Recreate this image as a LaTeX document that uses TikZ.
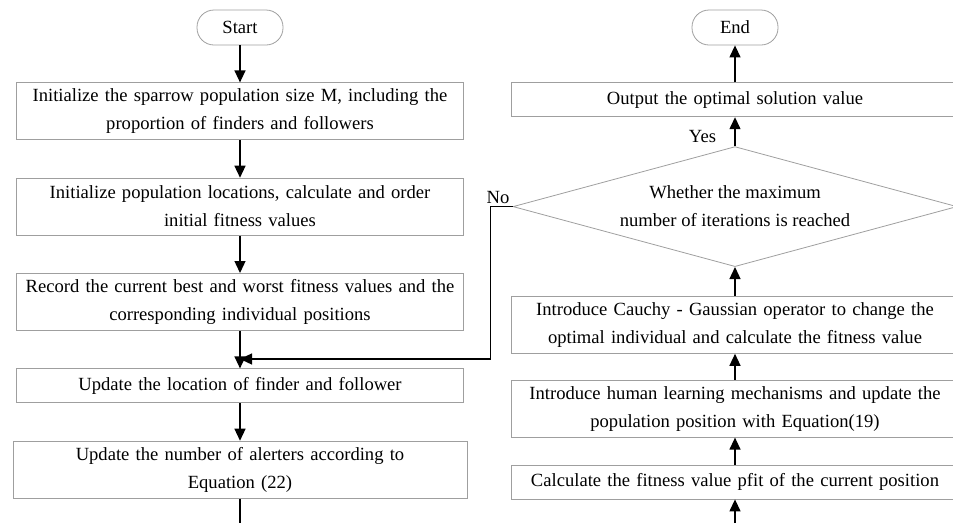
\documentclass[tikz,border=0pt]{standalone}
\usepackage{fontspec}
\setmainfont{Liberation Serif}
\usetikzlibrary{arrows.meta, positioning, shapes.geometric}

\begin{document}
\begin{tikzpicture}[
	  x=1pt, y=-1pt,
	  font=\fontsize{18.6}{28}\selectfont,
	  node distance=37.5pt,
	  box/.style={
	    draw=gray!75,
	    line width=0.8pt,
	    align=center,
	    text width=435pt,
	    inner sep=6pt,
	    minimum height=57pt
	  },
	  onebox/.style={box,minimum height=34pt},
	  termbox/.style={draw=gray!75,line width=0.8pt,rounded corners=17pt,minimum width=86pt,minimum height=35pt,inner sep=2pt},
	  decision/.style={diamond,draw=gray!75,line width=0.8pt,aspect=3.7,inner sep=0pt,minimum width=444pt,minimum height=120pt,align=center},
	  arrow/.style={-{Triangle[length=12pt,width=11pt]},line width=1.3pt}
	]
	\useasboundingbox (0,0) rectangle (953,523);
	
	% left column
	\node[termbox] (start) at (240,27.5) {Start};
	\node[box,below=37pt of start] (init) {Initialize the sparrow population size M, including the\\proportion of finders and followers};
	\node[box,below=of init] (order) {Initialize population locations, calculate and order\\initial fitness values};
	\node[box,below=of order] (record) {Record the current best and worst fitness values and the\\corresponding individual positions};
	\node[onebox,below=of record] (update) {Update the location of finder and follower};
	\node[box,below=of update,text width=442pt] (alert) {Update the number of alerters according to\\Equation (22)};
	
	% right column
	\node[termbox] (finish) at (735,27.5) {End};
	\node[onebox,below=37pt of finish] (output) {Output the optimal solution value};
	\node[decision,below=29pt of output] (check) {Whether the maximum\\number of iterations is reached};
	\node[box,below=29pt of check] (cauchy) {Introduce Cauchy - Gaussian operator to change the\\optimal individual and calculate the fitness value};
	\node[box,below=26pt of cauchy] (learn) {Introduce human learning mechanisms and update the\\population position with Equation(19)};
	\node[onebox,below=27pt of learn] (fitness) {Calculate the fitness value pfit of the current position};
	
	\coordinate (merge) at (240,359);
	\coordinate (leftout) at (240,523);
	\coordinate (rightin) at (735,523);
	
	\draw[arrow] (start) -- (init);
	\draw[arrow] (init) -- (order);
	\draw[arrow] (order) -- (record);
	\draw[arrow] (record) -- (update);
	\draw[arrow] (update) -- (alert);
	\draw[line width=1.3pt] (alert) -- (leftout);
	
	\draw[arrow] (rightin) -- (fitness);
	\draw[arrow] (fitness) -- (learn);
	\draw[arrow] (learn) -- (cauchy);
	\draw[arrow] (cauchy) -- (check);
	\draw[arrow] (check) -- node[left,xshift=-15pt,pos=0.35]{Yes} (output);
	\draw[arrow] (output) -- (finish);
	
	\draw[arrow] (check.west) -- ++(-22,0) |- (merge);
	\node[anchor=south east,inner sep=3pt] (nolabel) at (check.west) {No};
	
	\end{tikzpicture}
\end{document}
